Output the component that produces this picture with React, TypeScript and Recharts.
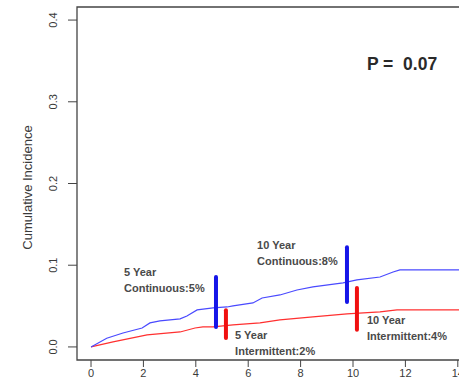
import React from 'react';
import { LineChart, Line, XAxis, YAxis, ReferenceLine, ReferenceArea, ReferenceDot } from 'recharts';

const continuousYears = [0, 0.6, 1.22, 1.95, 2.25, 2.63, 3.4, 3.66, 4.05, 4.66, 5.19, 5.42, 6.18, 6.53, 7.21, 7.86, 8.47, 9.62, 10.15, 11.03, 11.53, 11.79, 15];
const continuousIncidence = [0, 0.0106, 0.0171, 0.0232, 0.0294, 0.0318, 0.0343, 0.0379, 0.0453, 0.0477, 0.0489, 0.0502, 0.0538, 0.0599, 0.0636, 0.0697, 0.0734, 0.0783, 0.082, 0.0856, 0.0917, 0.0942, 0.0942];

const intermittentYears = [0, 0.84, 2.14, 3.4, 3.97, 4.27, 4.66, 5.42, 6.45, 7.21, 8.47, 9.77, 11.03, 11.68, 15];
const intermittentIncidence = [0, 0.0061, 0.0147, 0.0183, 0.0232, 0.0245, 0.0245, 0.0269, 0.0294, 0.033, 0.0367, 0.0404, 0.0428, 0.0453, 0.0453];

const xTicks = [0, 2, 4, 6, 8, 10, 12, 14];
const yTicks = [0, 0.1, 0.2, 0.3, 0.4];
const yTickLabels = ['0.0', '0.1', '0.2', '0.3', '0.4'];

const markerYears = [4.77, 5.15, 9.77, 10.15];
const markerLow = [0.0245, 0.011, 0.055, 0.021];
const markerHigh = [0.0856, 0.045, 0.122, 0.072];
const markerGroup = ['continuous', 'intermittent', 'continuous', 'intermittent'];

const annotationLine1 = ['5 Year', '5 Year', '10 Year', '10 Year'];
const annotationLine2 = ['Continuous:5%', 'Intermittent:2%', 'Continuous:8%', 'Intermittent:4%'];
const annotationX = [1.26, 5.5, 6.34, 10.53];
const annotationY = [0.0869, 0.0098, 0.1199, 0.0281];

const pValueText = 'P =  0.07';
const pValueX = 10.53;
const pValueY = 0.3395;

const yAxisTitle = 'Cumulative Incidence';

const continuousData = continuousYears.map((x, i) => ({ x, y: continuousIncidence[i] }));
const intermittentData = intermittentYears.map((x, i) => ({ x, y: intermittentIncidence[i] }));

const X_DOMAIN: [number, number] = [-0.535, 15];
const Y_DOMAIN: [number, number] = [-0.016, 0.416];
const FONT = '"Liberation Sans", Arial, sans-serif';
const TEXT = '#3a3a3a';

const YTick = (props: any) => {
  const { x, y, payload } = props;
  const idx = yTicks.indexOf(payload.value);
  const label = idx >= 0 ? yTickLabels[idx] : String(payload.value);
  const cx = x - 13;
  return (
    <text x={cx} y={y} transform={`rotate(-90 ${cx} ${y})`} textAnchor="middle" dominantBaseline="central" fontSize={11} fill={TEXT} fontFamily={FONT}>
      {label}
    </text>
  );
};

const XTick = (props: any) => {
  const { x, y, payload } = props;
  return (
    <text x={x} y={y + 4} textAnchor="middle" dominantBaseline="central" fontSize={11} fill={TEXT} fontFamily={FONT}>
      {payload.value}
    </text>
  );
};

const makeAnnotation = (i: number) => (p: any) => {
  const vb = p.viewBox || {};
  const cx = (vb.x || 0) + (vb.width || 0) / 2;
  const cy = (vb.y || 0) + (vb.height || 0) / 2;
  return (
    <text x={cx} y={cy} fontSize={11} fontWeight="bold" fill="#4a4a4a" fontFamily={FONT}>
      <tspan x={cx} y={cy}>{annotationLine1[i]}</tspan>
      <tspan x={cx} y={cy + 16}>{annotationLine2[i]}</tspan>
    </text>
  );
};

const pValueLabel = (p: any) => {
  const vb = p.viewBox || {};
  const cx = (vb.x || 0) + (vb.width || 0) / 2;
  const cy = (vb.y || 0) + (vb.height || 0) / 2;
  return (
    <text x={cx} y={cy} fontSize={17.5} fontWeight="bold" fill="#2a2a2a" fontFamily={FONT} style={{ whiteSpace: 'pre' }}>
      {pValueText}
    </text>
  );
};

const titleLabel = (p: any) => {
  const vb = p.viewBox || {};
  const cx = 27;
  const cy = (vb.y || 0) + (vb.height || 0) / 2 + 4;
  return (
    <text x={cx} y={cy} transform={`rotate(-90 ${cx} ${cy})`} textAnchor="middle" dominantBaseline="central" fontSize={13} fill={TEXT} fontFamily={FONT}>
      {yAxisTitle}
    </text>
  );
};

export default function App() {
  return (
    <div style={{ position: 'absolute', left: 0, top: 0, width: 459, height: 388, overflow: 'hidden', background: '#fff' }}>
      <LineChart width={494} height={388} margin={{ top: 7, right: 10, bottom: 0, left: 0 }}>
        <XAxis
          type="number"
          dataKey="x"
          domain={X_DOMAIN}
          ticks={xTicks}
          allowDataOverflow
          axisLine={false}
          tickLine={{ stroke: '#444' }}
          tickSize={7}
          tick={<XTick />}
          height={28}
        />
        <YAxis
          type="number"
          dataKey="y"
          domain={Y_DOMAIN}
          ticks={yTicks}
          allowDataOverflow
          axisLine={false}
          tickLine={{ stroke: '#444' }}
          tickSize={9}
          tick={<YTick />}
          width={77}
          label={{ content: titleLabel }}
        />
        <ReferenceArea x1={X_DOMAIN[0]} x2={X_DOMAIN[1]} y1={Y_DOMAIN[0]} y2={Y_DOMAIN[1]} fill="none" fillOpacity={0} stroke="#444" strokeWidth={1.3} />
        <Line data={intermittentData} dataKey="y" type="linear" stroke="#ff3030" strokeWidth={1.2} dot={false} isAnimationActive={false} />
        <Line data={continuousData} dataKey="y" type="linear" stroke="#4a4aff" strokeWidth={1.2} dot={false} isAnimationActive={false} />
        {markerYears.map((mx, i) => (
          <ReferenceLine
            key={`m${i}`}
            segment={[{ x: mx, y: markerLow[i] }, { x: mx, y: markerHigh[i] }]}
            stroke={markerGroup[i] === 'continuous' ? '#1515e8' : '#f01010'}
            strokeWidth={4}
            strokeLinecap="round"
          />
        ))}
        {annotationX.map((ax, i) => (
          <ReferenceDot key={`a${i}`} x={ax} y={annotationY[i]} r={0} fill="none" stroke="none" label={{ content: makeAnnotation(i) }} />
        ))}
        <ReferenceDot x={pValueX} y={pValueY} r={0} fill="none" stroke="none" label={{ content: pValueLabel }} />
      </LineChart>
    </div>
  );
}
